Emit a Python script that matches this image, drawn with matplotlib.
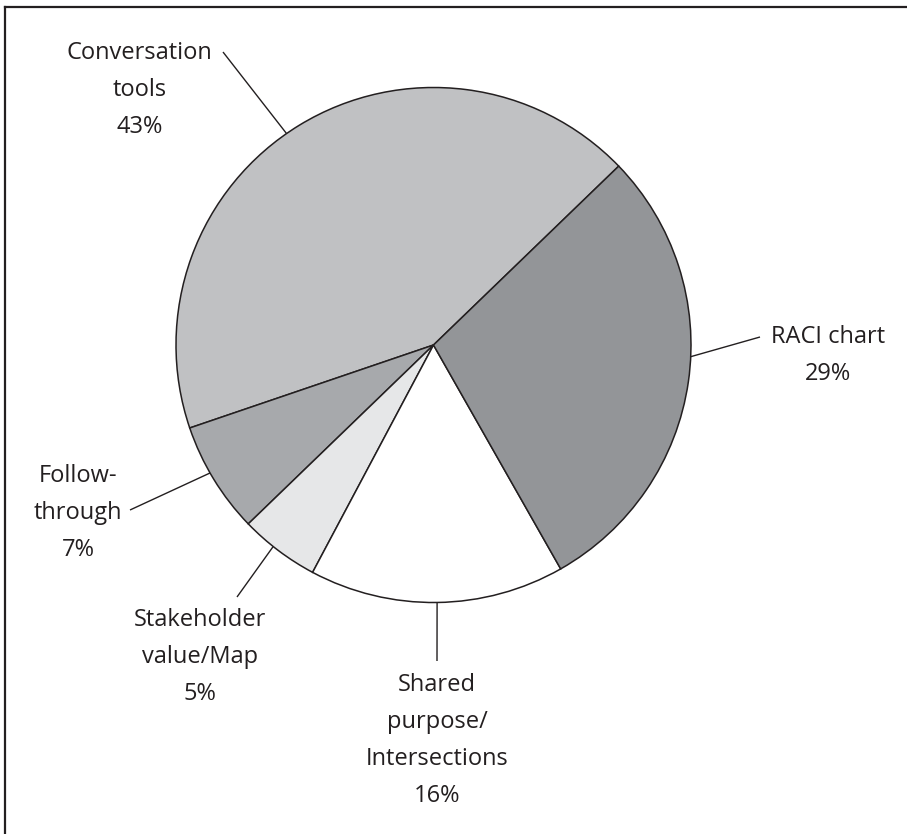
import matplotlib
matplotlib.use("Agg")
import matplotlib.pyplot as plt
import numpy as np

# ---- data ----
labels = ["Conversation\ntools", "Follow-\nthrough", "Stakeholder\nvalue/Map",
          "Shared\npurpose/\nIntersections", "RACI chart"]
values = [43, 7, 5, 16, 29]
colors = ["#c0c1c3", "#a7a9ac", "#e6e7e8", "#ffffff", "#939598"]

# ---- layout (pixel coords, y from top) ----
W, H = 907, 834
CX, CY, R = 433.5, 345, 257.5
# text first-line centre and leader-line outer end for each label
text_pos = [(139.5, 53), (78, 476), (200, 620), (437, 685), (828, 337)]
line_end = [(223, 52), (130, 510), (237, 597), (437, 661), (760, 337)]
anchor_offset = [3.4, -1.6, -1.5, 0.0, 5.6]  # degrees from wedge mid-angle
LINE_STEP = 37
INK = "#231f20"

plt.rcParams["font.family"] = ["Open Sans", "DejaVu Sans"]

fig = plt.figure(figsize=(W / 100, H / 100), dpi=100)
ax = fig.add_axes([0, 0, 1, 1])


def fy(y):
    return H - y


wedges, _ = ax.pie(values, colors=colors, startangle=44.0, counterclock=True,
                   center=(CX, fy(CY)), radius=R,
                   wedgeprops=dict(edgecolor=INK, linewidth=1.1))
ax.set_xlim(0, W)
ax.set_ylim(0, H)
ax.set_aspect("equal")
ax.axis("off")

for w, lab, val, tp, le, off in zip(wedges, labels, values, text_pos,
                                    line_end, anchor_offset):
    mid = np.deg2rad((w.theta1 + w.theta2) / 2 + off)
    ax_x = CX + R * np.cos(mid)
    ax_y = fy(CY) + R * np.sin(mid)
    ax.plot([ax_x, le[0]], [ax_y, fy(le[1])], color=INK, lw=1.0,
            solid_capstyle="butt")
    lines = lab.split("\n") + [f"{val}%"]
    for i, s in enumerate(lines):
        ax.text(tp[0], fy(tp[1] + i * LINE_STEP), s, ha="center", va="center",
                fontsize=17, color=INK)

# frame (top and left edges visible)
ax.plot([5, W], [fy(7), fy(7)], color=INK, lw=1.6, clip_on=False)
ax.plot([5, 5], [fy(7), 0], color=INK, lw=1.6, clip_on=False)

fig.savefig("out.png", dpi=100)
